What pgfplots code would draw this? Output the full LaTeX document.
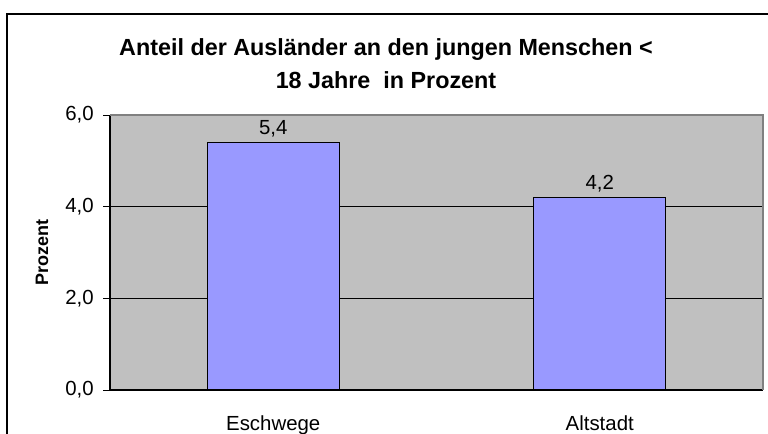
\documentclass[border=0pt]{standalone}
\usepackage{pgfplots}
\pgfplotsset{compat=1.18}
\usepackage{fontspec}
\setmainfont{Liberation Sans}
\definecolor{plotbg}{HTML}{C0C0C0}
\definecolor{barfill}{HTML}{9999FF}
\definecolor{frame}{HTML}{808080}
\begin{document}
\begin{tikzpicture}[x=0.75pt,y=0.75pt]
\useasboundingbox (0,0) rectangle (768,433);
\draw[black,line width=1.2pt] (7,-5) -- (7,419) -- (775,419);
\node[font=\bfseries\fontsize{17.5}{24.75}\selectfont,align=center] at (386,369.5) {Anteil der Ausländer an den jungen Menschen <\\18 Jahre\ \ in Prozent};
\begin{axis}[
  at={(82.5pt,32.25pt)}, anchor=south west,
  scale only axis, width=489.75pt, height=206.25pt,
  xmin=0, xmax=2, ymin=0, ymax=6,
  axis lines*=left,
  axis line style={black, line width=0.8pt},
  axis background/.style={fill=plotbg},
  ytick={0,2,4,6},
  /pgf/number format/assume math mode=true,
  yticklabel style={anchor=east, xshift=-3.75pt, /pgf/number format/.cd, fixed, fixed zerofill, precision=1, use comma},
  ymajorgrids, grid style={black, line width=0.6pt},
  tick align=outside, major tick length=5pt,
  tick style={black, line width=0.6pt},
  xtick={0.5,1.5}, xticklabels={Eschwege, Altstadt},
  x tick style={draw=none},
  extra x ticks={0,1,2}, extra x tick labels={},
  extra x tick style={grid=none, major tick length=5.5pt, tick style={draw=black}},
  ticklabel style={font=\fontsize{15.3}{17}\selectfont},
  xticklabel style={anchor=base, yshift=-25.5pt},
  ylabel={Prozent},
  every axis y label/.style={at={(axis description cs:-0.104,0.5)}, rotate=90, anchor=center, font=\fontsize{13.5}{15}\selectfont\bfseries},
  ybar, bar width=99pt, bar shift=0pt,
  nodes near coords,
  nodes near coords style={font=\fontsize{15.3}{17}\selectfont, /pgf/number format/.cd, fixed, fixed zerofill, precision=1, use comma, assume math mode=true},
  clip=false,
]
\addplot[fill=barfill, draw=black, line width=0.8pt] coordinates {(0.5,5.4) (1.5,4.2)};
\draw[frame, line width=1pt] (rel axis cs:0,1) -- (rel axis cs:1,1) -- (rel axis cs:1,0);
\end{axis}
\end{tikzpicture}
\end{document}
